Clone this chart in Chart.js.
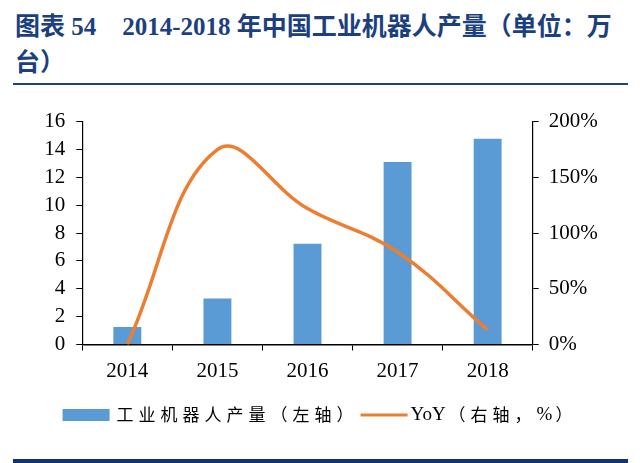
<!DOCTYPE html>
<html>
<head>
<meta charset="utf-8">
<script src="https://cdn.jsdelivr.net/npm/chart.js@4"></script>
<style>
  html, body { margin: 0; padding: 0; background: #fff; }
  body { width: 640px; height: 463px; position: relative; overflow: hidden; }
  #title {
    position: absolute; left: 15px; top: 9px; width: 625px;
    font: bold 25px "Liberation Serif", "Noto Sans CJK SC", serif;
    line-height: 36px; color: #1c3f80; white-space: nowrap;
  }
  #title .gap { margin-left: 26px; }
  .rule { position: absolute; left: 13px; width: 615px; }
  #rule1 { top: 83px; height: 2px; background: #1f4284; }
  #rule2 { top: 459px; height: 4px; background: #123272; }
  #wrap { position: absolute; left: 0; top: 90px; width: 640px; height: 373px; }
</style>
</head>
<body>
<div id="title">图表 54<span class="gap">2014-2018 年中国工业机器人产量（单位：万</span><br>台）</div>
<div class="rule" id="rule1"></div>
<div id="wrap"><canvas id="chart"></canvas></div>
<div class="rule" id="rule2"></div>
<script>
// data
const years = ['2014', '2015', '2016', '2017', '2018'];
const output = [1.25, 3.3, 7.24, 13.11, 14.77];   // 万台, left axis
const yoy = [0, 175, 122, 83, 13];                 // %, right axis
const seriesNames = ['工业机器人产量（左轴）', 'YoY（右轴，%）'];

const barColor = '#5b9bd5';
const lineColor = '#ed7d31';
const tickFont = { family: '"Liberation Serif", "Times New Roman", serif', size: 21 };

// draws a label, CJK part spaced out, latin part plain and a bit bigger
function spacedText(ctx, text, x, y, draw) {
  let w = 0;
  for (const part of text.match(/[A-Za-z0-9%]+|[^A-Za-z0-9%]+/g)) {
    const latin = /[A-Za-z0-9%]/.test(part);
    ctx.font = latin ? '19px "Liberation Serif", serif' : '17px "Noto Sans CJK SC", sans-serif';
    if ('letterSpacing' in ctx) ctx.letterSpacing = latin ? '0px' : '5px';
    if (draw) ctx.fillText(part, x + w, y);
    w += ctx.measureText(part).width + (latin ? 3 : 0);
  }
  return w;
}

// own legend row under the axis
const legendRow = {
  id: 'legendRow',
  afterDraw(chart) {
    const ctx = chart.ctx;
    const y = 325;
    ctx.save();
    ctx.textBaseline = 'middle';
    const keyW = 47, keyGap = 7, itemGap = 2;
    const w0 = spacedText(ctx, seriesNames[0], 0, 0, false);
    const w1 = spacedText(ctx, seriesNames[1], 0, 0, false);
    const total = keyW + keyGap + w0 + itemGap + keyW + 3 + w1;
    let x = 320 - total / 2;
    ctx.fillStyle = barColor;
    ctx.fillRect(x, y - 6, keyW, 12);
    x += keyW + keyGap;
    ctx.fillStyle = '#000';
    spacedText(ctx, seriesNames[0], x, y, true);
    x += w0 + itemGap;
    ctx.strokeStyle = lineColor;
    ctx.lineWidth = 3;
    ctx.beginPath();
    ctx.moveTo(x, y);
    ctx.lineTo(x + keyW, y);
    ctx.stroke();
    x += keyW + 3;
    spacedText(ctx, seriesNames[1], x, y, true);
    ctx.restore();
  }
};

const ctx = document.getElementById('chart').getContext('2d');
new Chart(ctx, {
  data: {
    labels: years,
    datasets: [
      {
        type: 'bar',
        label: seriesNames[0],
        data: output,
        backgroundColor: barColor,
        barPercentage: 0.31,
        categoryPercentage: 1,
        yAxisID: 'y',
        order: 1
      },
      {
        type: 'line',
        label: seriesNames[1],
        data: yoy,
        borderColor: lineColor,
        borderWidth: 3.5,
        pointRadius: 0,
        tension: 0.4,
        yAxisID: 'y1',
        order: 0
      }
    ]
  },
  options: {
    responsive: true,
    maintainAspectRatio: false,
    animation: false,
    layout: { padding: { top: 31.7, left: 0, right: 0, bottom: 78.5 } },
    plugins: {
      legend: { display: false },
      title: { display: false },
      tooltip: { enabled: false }
    },
    scales: {
      x: {
        grid: { drawOnChartArea: false, tickLength: 6, color: '#000', offset: true },
        border: { color: '#000', width: 1.5 },
        ticks: { color: '#000', font: tickFont, padding: 8 },
        afterFit: (s) => { s.height = 40; }
      },
      y: {
        position: 'left',
        min: 0, max: 16,
        grid: { drawOnChartArea: false, tickLength: 6, color: '#000' },
        border: { color: '#000', width: 1.2 },
        ticks: { stepSize: 2, autoSkip: false, color: '#000', font: tickFont, padding: 11 },
        afterFit: (s) => { s.width = 82.3; }
      },
      y1: {
        position: 'right',
        min: 0, max: 200,
        grid: { drawOnChartArea: false, tickLength: 6, color: '#000' },
        border: { color: '#000', width: 1.2 },
        ticks: { stepSize: 50, autoSkip: false, color: '#000', font: tickFont, padding: 10,
                 callback: (v) => v + '%' },
        afterFit: (s) => { s.width = 107.3; }
      }
    }
  },
  plugins: [legendRow]
});
</script>
</body>
</html>
